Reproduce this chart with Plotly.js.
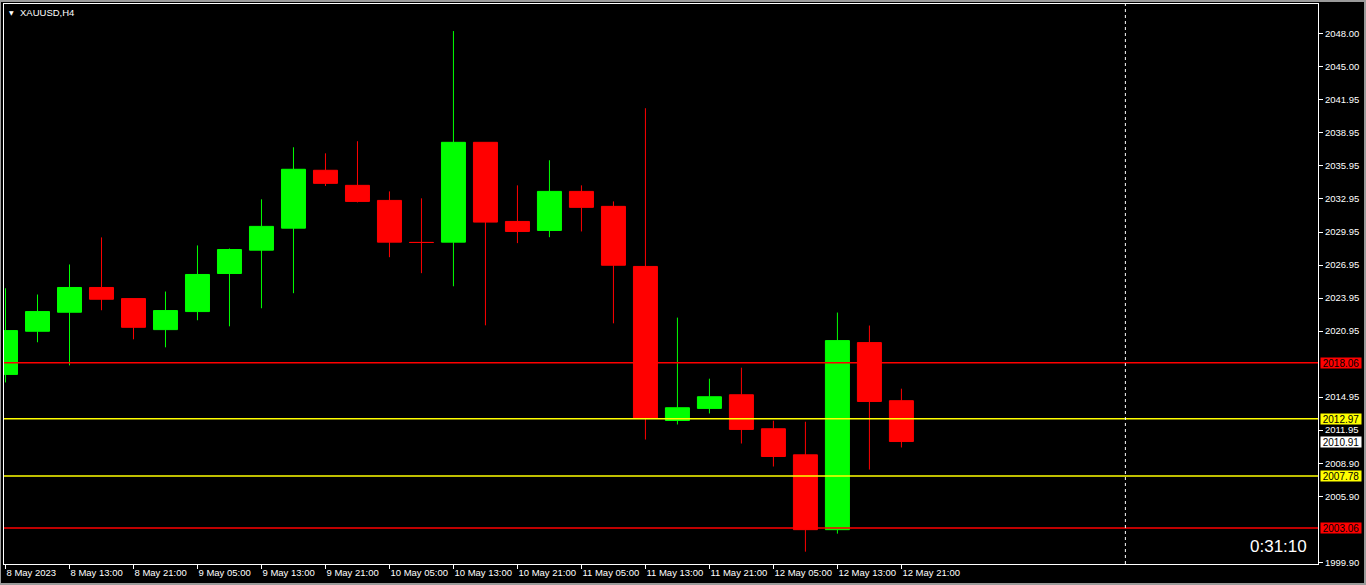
<!DOCTYPE html>
<html>
<head>
<meta charset="utf-8">
<script src="https://cdn.plot.ly/plotly-3.0.1.min.js"></script>
<style>
  html, body { margin: 0; padding: 0; background: #000; }
  #chart { width: 1366px; height: 585px; }
</style>
</head>
<body>
<div id="chart"></div>
<script>
const symbolTitle = "XAUUSD,H4";
const timerText = "0:31:10";

const candleTimes = [
  "8 May 05:00", "8 May 09:00", "8 May 13:00", "8 May 17:00", "8 May 21:00",
  "9 May 01:00", "9 May 05:00", "9 May 09:00", "9 May 13:00", "9 May 17:00", "9 May 21:00",
  "10 May 01:00", "10 May 05:00", "10 May 09:00", "10 May 13:00", "10 May 17:00", "10 May 21:00",
  "11 May 01:00", "11 May 05:00", "11 May 09:00", "11 May 13:00", "11 May 17:00", "11 May 21:00",
  "12 May 01:00", "12 May 05:00", "12 May 09:00", "12 May 13:00", "12 May 17:00", "12 May 21:00"
];
const openPrices = [2017.01, 2020.93, 2022.66, 2024.91, 2023.90, 2021.08, 2022.72, 2026.18, 2028.30, 2030.30,
  2035.56, 2034.19, 2032.82, 2029.00, 2029.03, 2038.10, 2030.91, 2030.09, 2033.64, 2032.28,
  2026.82, 2012.82, 2013.92, 2015.16, 2012.07, 2009.70, 2002.90, 2019.90, 2014.62];
const highPrices = [2024.84, 2024.27, 2027.00, 2029.46, 2023.90, 2024.54, 2028.73, 2028.45, 2032.92, 2037.65,
  2037.10, 2038.20, 2033.64, 2033.01, 2048.21, 2038.10, 2034.19, 2036.47, 2034.19, 2032.73,
  2041.20, 2022.17, 2016.62, 2017.62, 2012.80, 2012.71, 2022.63, 2021.45, 2015.71];
const lowPrices = [2016.28, 2019.93, 2017.83, 2022.84, 2020.20, 2019.47, 2021.93, 2021.38, 2023.02, 2024.39,
  2034.13, 2032.64, 2027.66, 2026.21, 2025.02, 2021.47, 2028.94, 2029.48, 2030.00, 2021.65,
  2011.09, 2012.46, 2013.46, 2010.73, 2008.64, 2000.90, 2002.54, 2008.36, 2010.37];
const closePrices = [2020.99, 2022.72, 2024.91, 2023.84, 2021.29, 2022.81, 2026.09, 2028.36, 2030.46, 2035.65,
  2034.37, 2032.73, 2029.03, 2029.00, 2038.10, 2030.85, 2030.00, 2033.64, 2032.19, 2026.93,
  2013.01, 2013.98, 2014.98, 2012.01, 2009.55, 2002.90, 2020.08, 2014.55, 2010.91];

const tickTimes = ["8 May 05:00", "8 May 13:00", "8 May 21:00", "9 May 05:00", "9 May 13:00", "9 May 21:00",
  "10 May 05:00", "10 May 13:00", "10 May 21:00", "11 May 05:00", "11 May 13:00", "11 May 21:00",
  "12 May 05:00", "12 May 13:00", "12 May 21:00"];
const tickLabels = ["8 May 2023", "8 May 13:00", "8 May 21:00", "9 May 05:00", "9 May 13:00", "9 May 21:00",
  "10 May 05:00", "10 May 13:00", "10 May 21:00", "11 May 05:00", "11 May 13:00", "11 May 21:00",
  "12 May 05:00", "12 May 13:00", "12 May 21:00"];

const priceTicks = [2048.00, 2045.00, 2041.95, 2038.95, 2035.95, 2032.95, 2029.95, 2026.95, 2023.95,
  2020.95, 2014.95, 2011.95, 2008.90, 2005.90, 1999.90];

const levelPrices = [2018.06, 2012.97, 2007.78, 2003.06];
const levelColors = ["#ff0000", "#ffff00", "#ffff00", "#ff0000"];

const separatorIndex = 35;

const UP = "#00ff00", DOWN = "#ff0000";
const FONT = "Liberation Sans, Arial, sans-serif";

const trace = {
  type: "candlestick",
  x: candleTimes,
  open: openPrices, high: highPrices, low: lowPrices, close: closePrices,
  increasing: { line: { color: UP, width: 1 }, fillcolor: UP },
  decreasing: { line: { color: DOWN, width: 1 }, fillcolor: DOWN },
  whiskerwidth: 0,
  hoverinfo: "skip",
  showlegend: false
};

const lastPrice = closePrices[closePrices.length - 1];

const shapes = levelPrices.map((p, i) => ({
  type: "line", xref: "paper", x0: 0, x1: 1, yref: "y", y0: p, y1: p,
  line: { color: levelColors[i], width: 1.5 }, layer: "above"
}));
shapes.push({
  type: "line", xref: "x", x0: separatorIndex, x1: separatorIndex, yref: "paper", y0: 0, y1: 1,
  line: { color: "#ffffff", width: 1, dash: "3px,3px" }, layer: "above"
});
// outer window border
shapes.push({
  type: "rect", xref: "paper", yref: "paper",
  x0: -4 / 1314, x1: 1 + 47 / 1314, y0: -20 / 559, y1: 1 + 3 / 559,
  line: { color: "#9a9a9a", width: 2 }, layer: "above"
});

const annotations = levelPrices.map((p, i) => ({
  xref: "paper", x: 1, xanchor: "left", xshift: 2,
  yref: "y", y: p, yanchor: "middle",
  text: p.toFixed(2), showarrow: false,
  bgcolor: levelColors[i], borderpad: 0, width: 40, height: 10,
  font: { family: FONT, size: 10, color: "#000000" }
}));
annotations.push({
  xref: "paper", x: 1, xanchor: "left", xshift: 2,
  yref: "y", y: lastPrice, yanchor: "middle",
  text: lastPrice.toFixed(2), showarrow: false,
  bgcolor: "#ffffff", borderpad: 0, width: 40, height: 10,
  font: { family: FONT, size: 10, color: "#000000" }
});
annotations.push({
  xref: "paper", x: 0, xanchor: "left", xshift: 3,
  yref: "paper", y: 1, yanchor: "middle", yshift: -8,
  text: "▼", showarrow: false,
  font: { family: "DejaVu Sans", size: 6, color: "#ffffff" }
});
annotations.push({
  xref: "paper", x: 0, xanchor: "left", xshift: 14,
  yref: "paper", y: 1, yanchor: "middle", yshift: -8,
  text: symbolTitle, showarrow: false,
  font: { family: FONT, size: 9.5, color: "#ffffff" }
});
annotations.push({
  xref: "paper", x: 1, xanchor: "right", xshift: -9,
  yref: "paper", y: 0, yanchor: "middle", yshift: 18,
  text: timerText, showarrow: false,
  font: { family: FONT, size: 17, color: "#ffffff" }
});

const layout = {
  width: 1366, height: 585,
  margin: { l: 4, r: 48, t: 4, b: 21, pad: 0 },
  paper_bgcolor: "#000000", plot_bgcolor: "#000000",
  showlegend: false,
  hovermode: false,
  boxgap: 0.25, boxgroupgap: 0,
  xaxis: {
    type: "category",
    range: [-0.047, 41.02],
    showgrid: false, zeroline: false,
    showline: true, linecolor: "#ffffff", linewidth: 1, mirror: true,
    ticks: "outside", ticklen: 4, tickcolor: "#ffffff", tickwidth: 1,
    tickmode: "array", tickvals: tickTimes, ticktext: tickLabels,
    ticklabelposition: "outside right",
    tickangle: 0,
    tickfont: { family: FONT, size: 9.5, color: "#ffffff" },
    rangeslider: { visible: false },
    fixedrange: true
  },
  yaxis: {
    side: "right",
    range: [1999.78, 2050.67],
    showgrid: false, zeroline: false,
    showline: true, linecolor: "#ffffff", linewidth: 1, mirror: true,
    ticks: "outside", ticklen: 4, tickcolor: "#ffffff", tickwidth: 1,
    tickmode: "array", tickvals: priceTicks, ticktext: priceTicks.map(v => v.toFixed(2)),
    tickfont: { family: FONT, size: 9.5, color: "#ffffff" },
    fixedrange: true
  },
  shapes: shapes,
  annotations: annotations
};

Plotly.newPlot("chart", [trace], layout, { staticPlot: true, displayModeBar: false });
</script>
</body>
</html>
